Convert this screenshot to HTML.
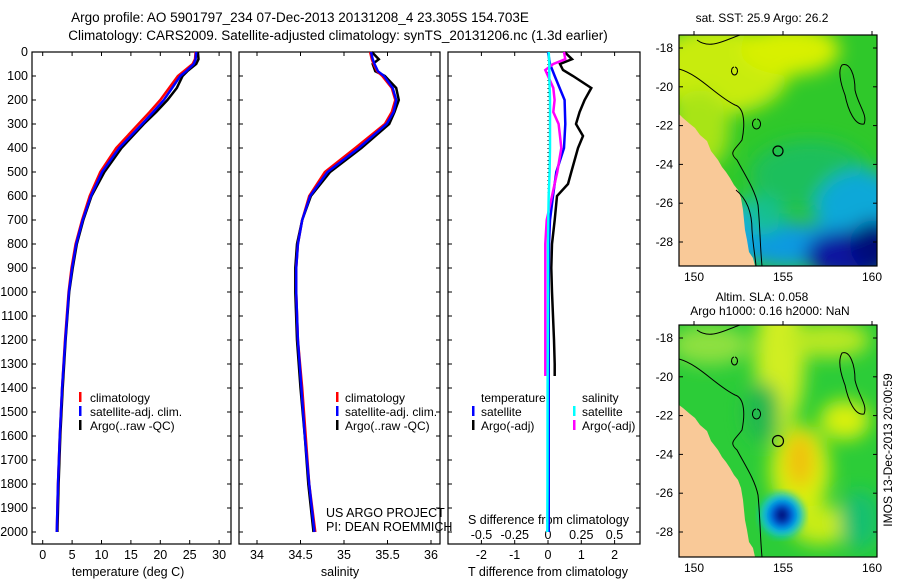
<!DOCTYPE html>
<html><head><meta charset="utf-8"><style>
body{margin:0;background:#fff}
svg text{font-family:"Liberation Sans",sans-serif;fill:#000}
</style></head><body>
<svg id="fig" width="900" height="580" xmlns="http://www.w3.org/2000/svg">
<defs>
<filter id="blur6" x="-30%" y="-30%" width="160%" height="160%"><feGaussianBlur stdDeviation="9"/></filter>
<filter id="blur3"><feGaussianBlur stdDeviation="4"/></filter>
<clipPath id="clipTop"><rect x="679" y="35" width="198" height="231"/></clipPath>
<clipPath id="clipBot"><rect x="679" y="325" width="198" height="232"/></clipPath>
</defs>
<text x="300" y="22" text-anchor="middle" font-size="13.5">Argo profile: AO 5901797_234 07-Dec-2013 20131208_4 23.305S 154.703E</text>
<text x="338" y="40" text-anchor="middle" font-size="13.5">Climatology: CARS2009. Satellite-adjusted climatology: synTS_20131206.nc (1.3d earlier)</text>

<g id="p1"><rect x="32" y="52" width="199" height="492" fill="none" stroke="#000" stroke-width="1.2"/></g>
<g id="p2"><rect x="239" y="52" width="201" height="492" fill="none" stroke="#000" stroke-width="1.2"/></g>
<g id="p3"><rect x="448" y="52" width="192" height="492" fill="none" stroke="#000" stroke-width="1.2"/></g>

<text x="128" y="576" text-anchor="middle" font-size="12.5">temperature (deg C)</text>
<text x="340" y="576" text-anchor="middle" font-size="12.5">salinity</text>
<text x="548" y="576" text-anchor="middle" font-size="12.5">T difference from climatology</text>
<text x="468" y="524" font-size="12.5">S difference from climatology</text>
<text x="326" y="517" font-size="12.5">US ARGO PROJECT</text>
<text x="326" y="531" font-size="12.5">PI: DEAN ROEMMICH</text>

<!-- legends -->
<g font-size="12">
<rect x="79" y="392" width="2.5" height="10" fill="#f00"/><text x="90" y="402">climatology</text>
<rect x="79" y="406" width="2.5" height="10" fill="#00f"/><text x="90" y="416">satellite-adj. clim.</text>
<rect x="79" y="420" width="2.5" height="10" fill="#000"/><text x="90" y="430">Argo(..raw -QC)</text>
</g>
<g font-size="12">
<rect x="336" y="392" width="2.5" height="10" fill="#f00"/><text x="345" y="402">climatology</text>
<rect x="336" y="406" width="2.5" height="10" fill="#00f"/><text x="345" y="416">satellite-adj. clim.</text>
<rect x="336" y="420" width="2.5" height="10" fill="#000"/><text x="345" y="430">Argo(..raw -QC)</text>
</g>
<g font-size="12">
<text x="481" y="402">temperature</text><text x="582" y="402">salinity</text>
<rect x="472" y="406" width="2.5" height="10" fill="#00f"/><text x="481" y="416">satellite</text>
<rect x="472" y="420" width="2.5" height="10" fill="#000"/><text x="481" y="430">Argo(-adj)</text>
<rect x="573" y="406" width="2.5" height="10" fill="#0ff"/><text x="582" y="416">satellite</text>
<rect x="573" y="420" width="2.5" height="10" fill="#f0f"/><text x="582" y="430">Argo(-adj)</text>
</g>

<!-- SST map -->
<g>
<text x="762" y="22" text-anchor="middle" font-size="12">sat. SST: 25.9 Argo: 26.2</text>
<g clip-path="url(#clipTop)">
<rect x="679" y="35" width="198" height="231" fill="#2fc82a"/>
<g filter="url(#blur6)">
<ellipse cx="720" cy="70" rx="70" ry="45" fill="#c8ec10"/>
<ellipse cx="790" cy="50" rx="50" ry="25" fill="#d8f000"/>
<ellipse cx="700" cy="130" rx="30" ry="40" fill="#a8e418"/>
<ellipse cx="810" cy="175" rx="60" ry="35" fill="#1cbf5c"/>
<ellipse cx="860" cy="210" rx="45" ry="40" fill="#0aa8d8"/>
<ellipse cx="790" cy="245" rx="55" ry="22" fill="#0a9ae0"/>
<ellipse cx="760" cy="215" rx="25" ry="20" fill="#14c090"/>
<ellipse cx="850" cy="255" rx="45" ry="25" fill="#0818a0"/>
<ellipse cx="875" cy="245" rx="25" ry="25" fill="#000a78"/>
<ellipse cx="735" cy="235" rx="15" ry="30" fill="#18a8e8"/>
</g>
<path d="M679,114 L683,118 L690,124 L695,128 L700,135 L707,141 L711,151 L718,160 L722,167 L726,172 L730,178 L734,185 L738,190 L741,198 L743,210 L744,220 L745,230 L747,240 L749,252 L753,258 L755,266 L679,266 Z" fill="#f9c998"/>
<g fill="none" stroke="#000" stroke-width="1">
<path d="M679,69 C700,75 715,95 735,105 C745,108 745,125 742,140 C735,150 728,152 737,160 C745,175 755,190 758,205 C760,225 760,245 762,266"/>
<path d="M736,190 C748,200 752,215 752,230 C753,245 755,255 756,266"/>
<path d="M842,65 C850,62 855,75 855,90 C858,105 868,115 864,124 C855,126 848,110 845,95 C840,82 838,70 842,65 Z"/>
<path d="M734,67 a3,4 0 1,0 1,0"/><path d="M756,119 a4,5 0 1,0 1,0"/>
<path d="M697,40 C710,50 725,40 740,35"/>
</g>
<circle cx="778" cy="151" r="5" fill="none" stroke="#000" stroke-width="1.2"/>
</g>
<rect x="679" y="35" width="198" height="231" fill="none" stroke="#000" stroke-width="1.2"/>
</g>

<!-- SLA map -->
<g>
<text x="762" y="301" text-anchor="middle" font-size="12">Altim. SLA: 0.058</text>
<text x="770" y="315" text-anchor="middle" font-size="12">Argo h1000: 0.16 h2000: NaN</text>
<g clip-path="url(#clipBot)">
<rect x="679" y="325" width="198" height="232" fill="#2ccc38"/>
<g filter="url(#blur6)">
<ellipse cx="710" cy="345" rx="40" ry="20" fill="#8ee040"/>
<ellipse cx="780" cy="360" rx="25" ry="70" fill="#d0ee20"/>
<ellipse cx="800" cy="470" rx="30" ry="45" fill="#d8f010"/>
<ellipse cx="800" cy="460" rx="14" ry="28" fill="#f0c010"/>
<ellipse cx="845" cy="420" rx="25" ry="20" fill="#d8f010"/>
<ellipse cx="830" cy="340" rx="40" ry="18" fill="#b8e820"/>
<ellipse cx="820" cy="525" rx="30" ry="20" fill="#c8ec18"/>
<ellipse cx="860" cy="520" rx="20" ry="30" fill="#18c070"/>
<ellipse cx="762" cy="412" rx="18" ry="30" fill="#20b850"/>
</g>
<g filter="url(#blur3)">
<ellipse cx="782" cy="515" rx="22" ry="22" fill="#10c8d8"/>
<ellipse cx="782" cy="515" rx="15" ry="15" fill="#0060e8"/>
<ellipse cx="782" cy="515" rx="8" ry="9" fill="#000a80"/>
</g>
<path d="M679,405 L683,408 L690,414 L695,418 L700,425 L707,431 L711,441 L718,450 L722,457 L726,462 L730,468 L734,475 L738,480 L741,488 L743,500 L744,510 L745,520 L747,530 L749,542 L753,548 L755,557 L679,557 Z" fill="#f9c998"/>
<g fill="none" stroke="#000" stroke-width="1">
<path d="M679,359 C700,365 715,385 735,395 C745,398 745,415 742,430 C735,440 728,442 737,450 C745,465 755,480 758,495 C760,515 760,535 762,557"/>
<path d="M842,353 C850,350 855,365 855,380 C858,395 868,405 864,414 C855,416 848,400 845,385 C840,372 838,360 842,353 Z"/>
<path d="M734,357 a3,4 0 1,0 1,0"/><path d="M756,409 a4,5 0 1,0 1,0"/>
<path d="M697,330 C710,340 725,330 740,325"/>
</g>
<circle cx="778" cy="441" r="5.5" fill="none" stroke="#000" stroke-width="1.2"/>
</g>
<rect x="679" y="325" width="198" height="232" fill="none" stroke="#000" stroke-width="1.2"/>
</g>
<text transform="translate(892,450) rotate(-90)" text-anchor="middle" font-size="12">IMOS 13-Dec-2013 20:00:59</text>
</svg>
<script>
// ---- data ----
const depthTicks=[0,100,200,300,400,500,600,700,800,900,1000,1100,1200,1300,1400,1500,1600,1700,1800,1900,2000];
const tTicks=[0,5,10,15,20,25,30];
const sTicks=[34,34.5,35,35.5,36];
const dTTicks=[-2,-1,0,1,2];
const dSTicks=[-0.5,-0.25,0,0.25,0.5];
const dSTickLabels=["-0.5","-0.25","0","0.25","0.5"];
const latTicks=[-18,-20,-22,-24,-26,-28];
const lonTicks=[150,155,160];
const depths=[0,30,50,80,100,150,200,250,300,400,500,600,700,800,900,1000,1200,1400,1600,1800,2000];
const tClim=[26,25.9,25.5,24,23,21.5,20,18.2,16.3,12.5,9.8,8,6.7,5.6,4.9,4.4,3.8,3.3,2.9,2.6,2.4];
const tSat=[26.1,26,25.7,24.4,23.4,22,20.6,18.8,16.9,13,10.1,8.2,6.8,5.7,5,4.45,3.85,3.3,2.9,2.6,2.4];
const tArgo=[26.4,26.5,26.1,24.6,23.8,22.8,21.2,19.3,17.2,13.4,10.5,8.3,6.9,5.8,5.1,4.5,3.9,3.4,3,2.7,2.5];
const sClim=[35.3,35.32,35.34,35.38,35.44,35.55,35.59,35.55,35.47,35.13,34.78,34.6,34.52,34.47,34.45,34.45,34.47,34.52,34.56,34.6,34.67];
const sSat=[35.31,35.33,35.35,35.39,35.46,35.56,35.6,35.57,35.49,35.17,34.81,34.61,34.52,34.47,34.45,34.45,34.47,34.51,34.55,34.6,34.66];
const sArgo=[35.32,35.4,35.33,35.36,35.47,35.6,35.63,35.58,35.52,35.2,34.84,34.62,34.52,34.46,34.44,34.44,34.46,34.5,34.55,34.59,34.65];
const dDepths=[0,30,50,75,100,150,200,250,300,350,400,500,550,600,700,800,900,1000,1100,1200,1300,1350];
const dTArgo=[0.5,0.72,0.36,0.45,0.75,1.3,1.1,0.95,0.84,1.05,0.9,0.7,0.6,0.27,0.2,0.12,0.1,0.12,0.15,0.18,0.2,0.2];
const dSArgo=[0.12,0.13,0.04,-0.02,0,0.04,0.05,0.04,0.08,0.09,0.1,0.07,0.05,0.03,-0.01,-0.02,-0.02,-0.02,-0.02,-0.02,-0.02,-0.02];
const sDepths=[0,50,100,200,300,400,500,600,700,800,1000,1400,1800,2000];
const dTSat=[0,0.06,0.2,0.5,0.52,0.48,0.25,0.15,0.06,0.03,0.02,0.02,0.02,0.02];
const dSSat=[0.005,0.01,0.01,0.015,0.015,0.015,0.012,0.005,0.002,0,0,-0.003,-0.004,-0.005];

// ---- axes ----
const Y=d=>52+d*0.24;
const XT=t=>42.7+5.88*t;
const XS=s=>257+87*(s-34);
const XdT=v=>548+33.3*v;
const XdS=v=>548+133*v;
const NS='http://www.w3.org/2000/svg';
const svg=document.getElementById('fig');
function mk(tag,attrs,parent){const e=document.createElementNS(NS,tag);for(const k in attrs)e.setAttribute(k,attrs[k]);(parent||svg).appendChild(e);return e;}
function txt(x,y,s,anchor,size){const e=mk('text',{x:x,y:y,'text-anchor':anchor||'middle','font-size':size||12.5});e.textContent=s;return e;}

depthTicks.forEach(d=>{
  const t=txt(28,Y(d)+4,String(d),'end');
  
  
  [[32,1],[231,-1],[239,1],[440,-1],[448,1],[640,-1]].forEach(([x,s])=>{mk('line',{x1:x,x2:x+4*s,y1:Y(d),y2:Y(d),stroke:'#000'});});
});
function xticks(vals,fx,labels,ly,name){
  vals.forEach((v,i)=>{const x=fx(v);
    mk('line',{x1:x,x2:x,y1:544,y2:540,stroke:'#000'});mk('line',{x1:x,x2:x,y1:52,y2:56,stroke:'#000'});
    const t=txt(x,ly,labels?labels[i]:String(v));
    
    });
}
xticks(tTicks,XT,null,559,'temperature-tick-label');
xticks(sTicks,XS,null,559,'salinity-tick-label');
xticks(dTTicks,XdT,null,559,'t-diff-tick-label');
dSTicks.forEach((v,i)=>{const t=txt(XdS(v),539,dSTickLabels[i]);
  
  });

function line(xs,ds,fx,color,w,name){
  const pts=xs.map((v,i)=>fx(v).toFixed(1)+','+Y(ds[i]).toFixed(1)).join(' ');
  const p=mk('polyline',{points:pts,fill:'none',stroke:color,'stroke-width':w});
  
  
}
line(tArgo,depths,XT,'#000',2.5,'temperature-argo-line');
line(tClim,depths,XT,'#f00',2.5,'temperature-climatology-line');
line(tSat,depths,XT,'#00f',2.5,'temperature-satellite-line');
line(sArgo,depths,XS,'#000',2.5,'salinity-argo-line');
line(sClim,depths,XS,'#f00',2.5,'salinity-climatology-line');
line(sSat,depths,XS,'#00f',2.5,'salinity-satellite-line');
mk('line',{x1:548,x2:548,y1:52,y2:Y(1300),stroke:'#000','stroke-dasharray':'1,3'});
line(dTArgo,dDepths,XdT,'#000',2.5,'t-diff-argo-line');
line(dTSat,sDepths,XdT,'#00f',2.5,'t-diff-satellite-line');
line(dSArgo,dDepths,XdS,'#f0f',2.5,'s-diff-argo-line');
line(dSSat,sDepths,XdS,'#0ff',2.5,'s-diff-satellite-line');

// map ticks
const LX=lon=>694+17.8*(lon-150);
[[35,266,48],[325,557,338]].forEach(([top,bot,y18])=>{
  latTicks.forEach(l=>{const y=y18+19.4*(-18-l);
    const t=txt(673,y+4,String(l),'end',12);
    
    
    mk('line',{x1:679,x2:683,y1:y,y2:y,stroke:'#000'});mk('line',{x1:877,x2:873,y1:y,y2:y,stroke:'#000'});});
  lonTicks.forEach(l=>{const x=LX(l);
    const t=txt(x,bot+15,String(l),'middle',12);
    
    
    mk('line',{x1:x,x2:x,y1:top,y2:top-4,stroke:'#000'});});
});
</script>
</body></html>
